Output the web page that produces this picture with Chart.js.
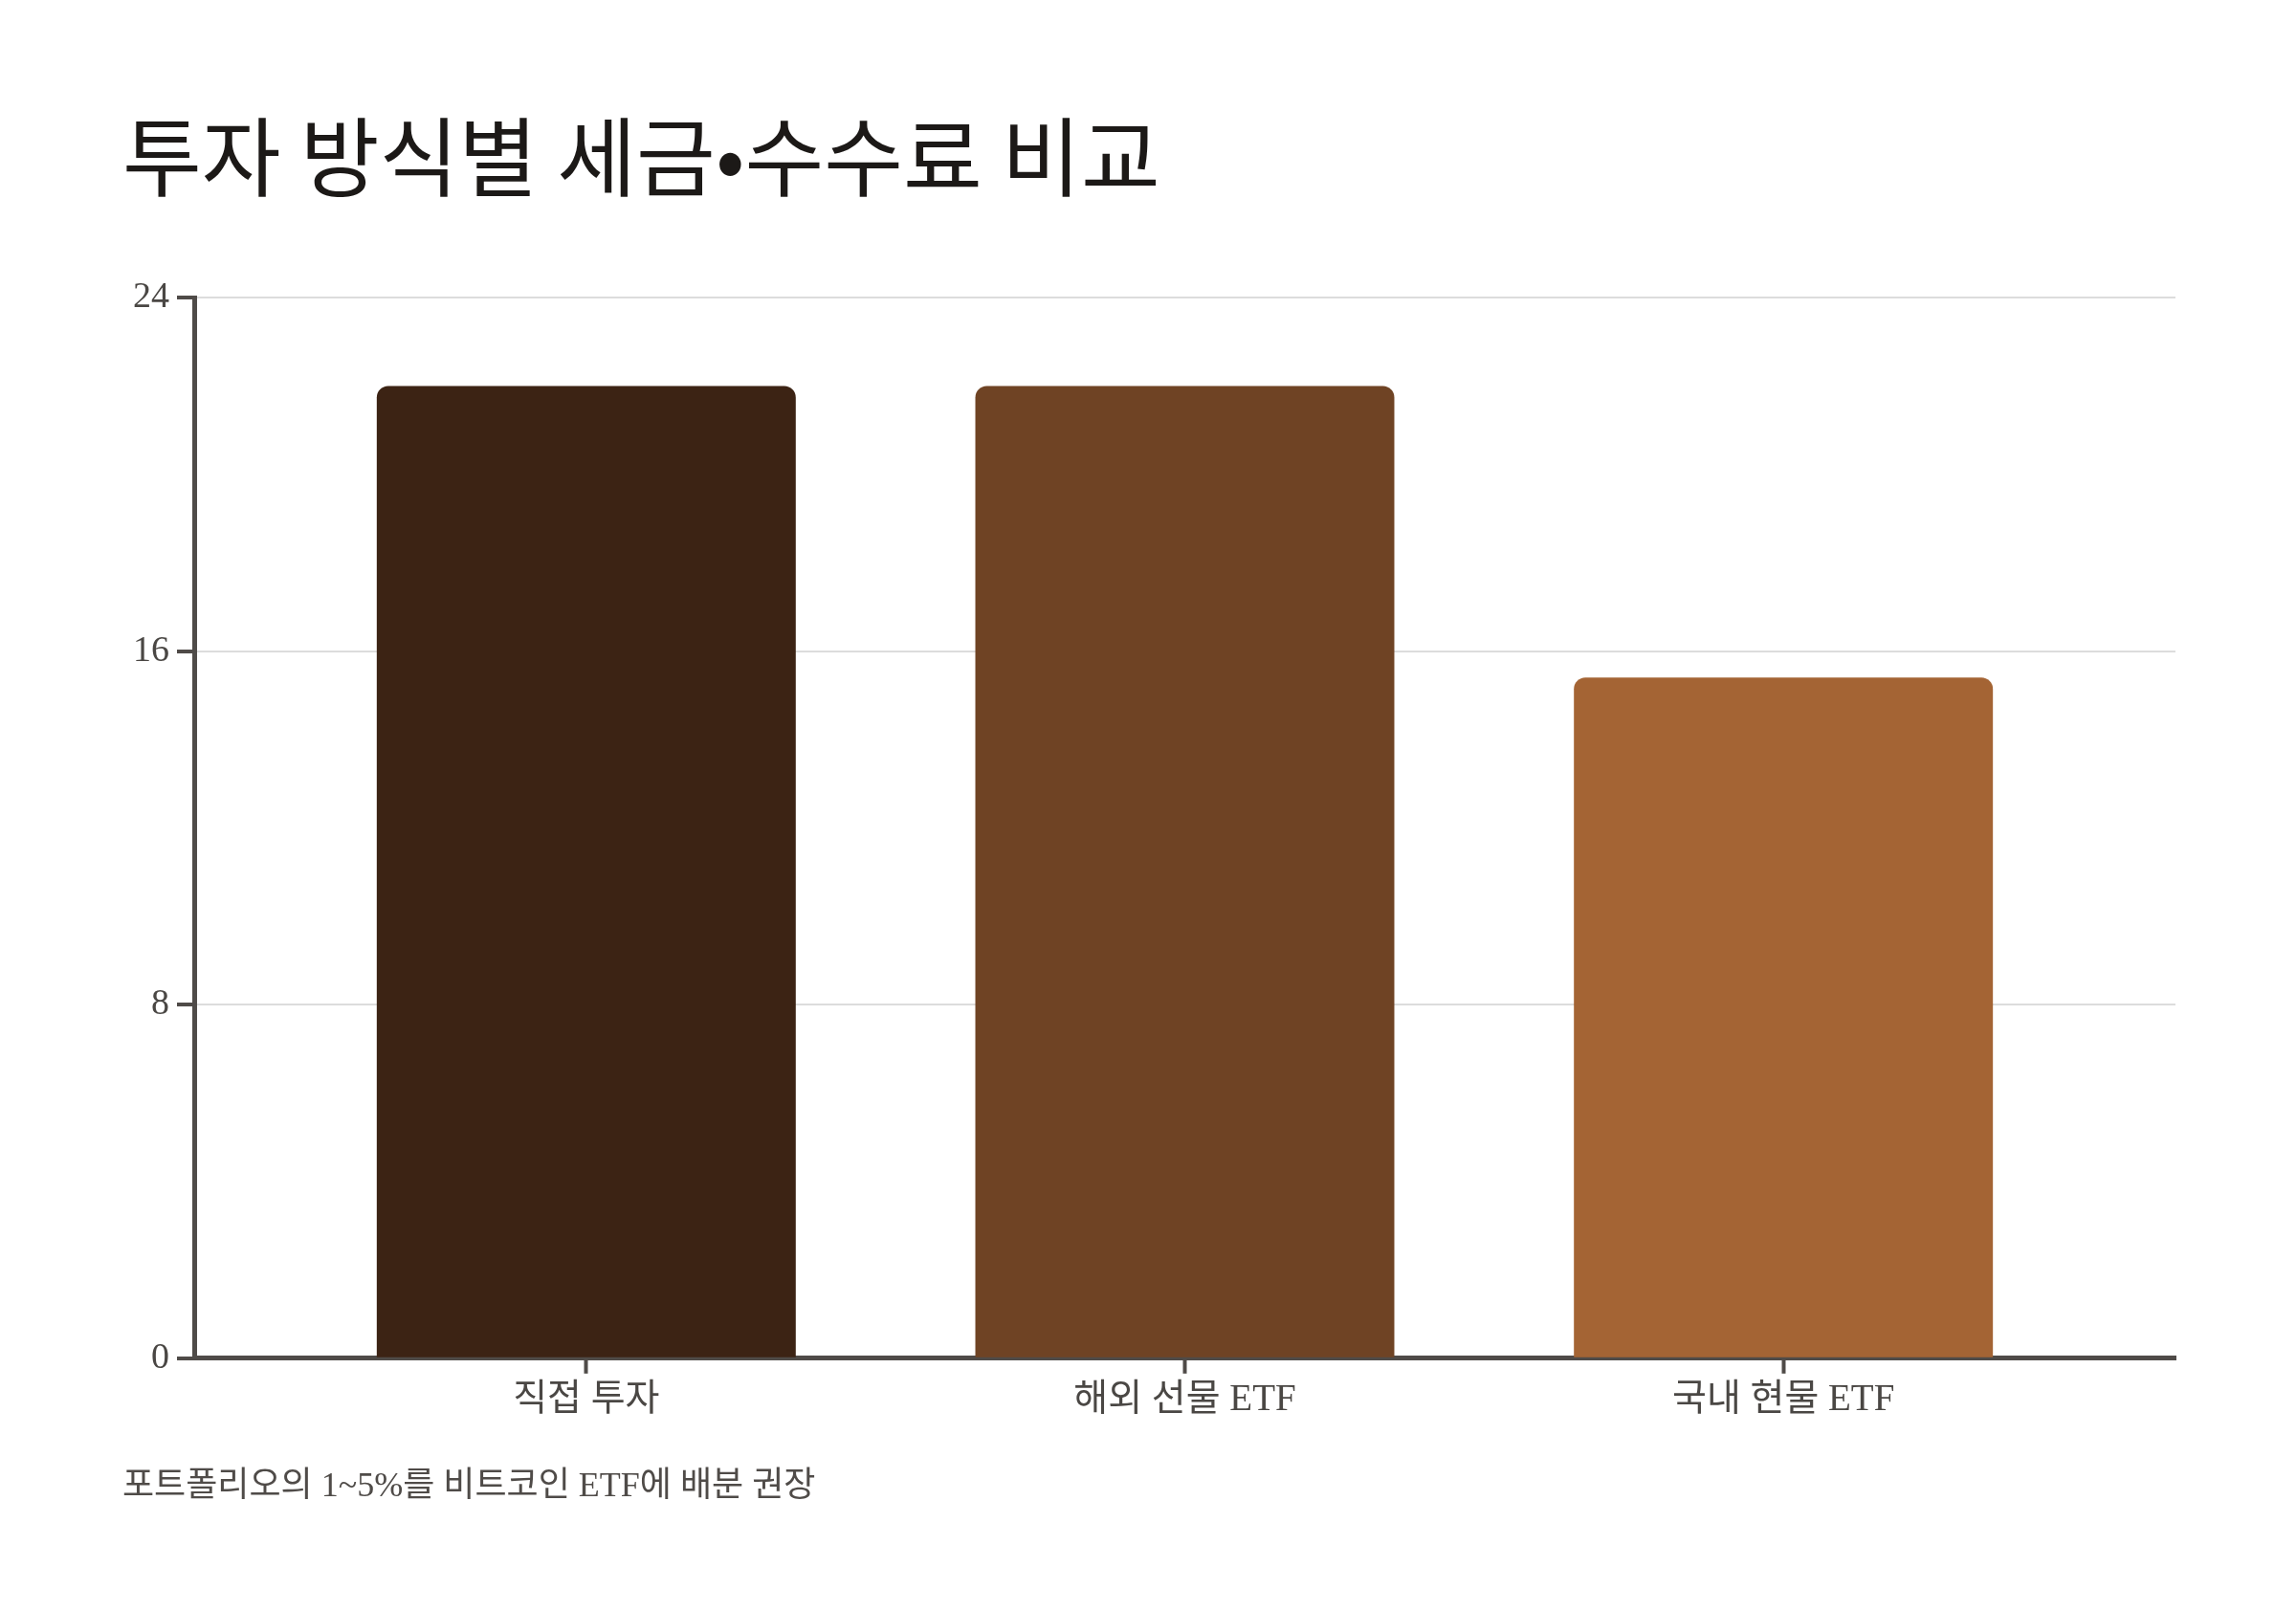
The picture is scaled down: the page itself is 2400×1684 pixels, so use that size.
<!DOCTYPE html>
<html lang="ko">
<head>
  <meta charset="UTF-8" />
  <title>투자 방식별 세금•수수료 비교</title>
  <style>
    html, body { margin: 0; padding: 0; background: #ffffff; }
    #taxChart { display: block; }
  </style>
</head>
<body>
  <canvas id="taxChart" width="2400" height="1684"></canvas>

  <script src="https://cdn.jsdelivr.net/npm/chart.js"></script>
  <script>
    // values
    const categories = ['직접 투자', '해외 선물 ETF', '국내 현물 ETF'];
    const taxRates = [22, 22, 15.4];
    const yTicks = [0, 8, 16, 24];

    const barColors = ['#3c2314', '#6f4324', '#a46434'];
    const axisColor = '#4f4b48';
    const labelFont = "'Liberation Serif', 'Noto Sans CJK KR', serif";

    const ctx = document.getElementById('taxChart').getContext('2d');
    new Chart(ctx, {
      type: 'bar',
      data: {
        datasets: [{
          data: categories.map((c, i) => ({ x: i, y: taxRates[i] })),
          backgroundColor: barColors,
          borderWidth: 0,
          borderRadius: 12,
          borderSkipped: 'start',
          categoryPercentage: 0.7,
          barPercentage: 1
        }]
      },
      options: {
        responsive: false,
        devicePixelRatio: 1,
        animation: false,
        layout: {
          padding: { top: 0, left: 128, right: 126, bottom: 0 }
        },
        plugins: {
          legend: { display: false },
          tooltip: { enabled: false },
          title: {
            display: true,
            text: '투자 방식별 세금•수수료 비교',
            align: 'start',
            color: '#1c1917',
            font: { family: "'Noto Sans CJK KR', sans-serif", size: 90, weight: 'normal', lineHeight: 1.2 },
            padding: { top: 110, bottom: 93 }
          },
          subtitle: {
            display: true,
            position: 'bottom',
            text: '포트폴리오의 1~5%를 비트코인 ETF에 배분 권장',
            align: 'start',
            color: '#4f4b48',
            font: { family: labelFont, size: 36, lineHeight: 1.2 },
            padding: { top: 0, bottom: 108 }
          }
        },
        scales: {
          x: {
            type: 'linear',
            offset: false,
            min: -0.655,
            max: 2.655,
            afterBuildTicks: s => { s.ticks = categories.map((c, i) => ({ value: i })); },
            afterFit: s => { s.height = 113; },
            ticks: {
              callback: (v, i) => categories[i],
              color: '#4a4744',
              font: { family: labelFont, size: 39 },
              padding: 5,
              maxRotation: 0
            },
            grid: {
              offset: false,
              drawOnChartArea: false,
              drawTicks: true,
              tickLength: 16,
              tickWidth: 4,
              tickColor: axisColor
            },
            border: { color: axisColor, width: 5 }
          },
          y: {
            min: 0,
            max: 24,
            afterBuildTicks: s => { s.ticks = yTicks.map(v => ({ value: v })); },
            afterFit: s => { s.width = 75; },
            ticks: {
              color: '#4a4744',
              font: { family: labelFont, size: 38 },
              padding: 8
            },
            grid: {
              color: '#dcdcdc',
              lineWidth: 2,
              tickLength: 18,
              tickWidth: 4,
              tickColor: axisColor
            },
            border: { color: axisColor, width: 5 }
          }
        }
      }
    });
  </script>
</body>
</html>
